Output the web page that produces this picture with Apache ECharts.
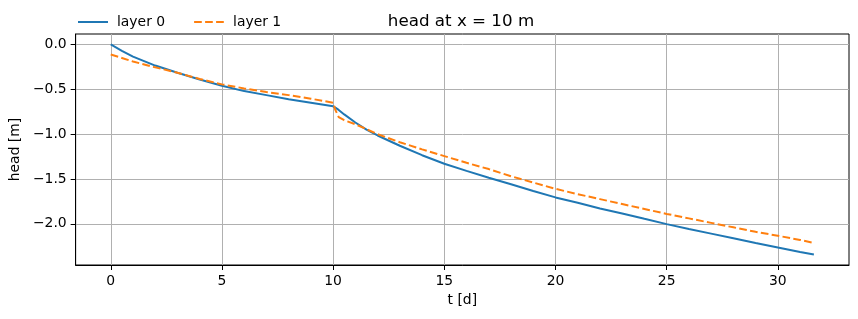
<!DOCTYPE html>
<html>
<head>
	<meta charset="utf-8" />
	<title>head at x = 10 m</title>
	<script src="https://cdn.jsdelivr.net/npm/echarts@6/dist/echarts.min.js"></script>
	<style>
		html, body { margin: 0; padding: 0; background: #fff; }
		#chart { width: 858px; height: 319px; }
	</style>
</head>
<body>
<div id="chart"></div>
<script type="text/javascript">
	// time in days
	var tDays = [0, 0.5, 1, 2, 3, 4, 5, 6, 7, 8, 9, 10, 10.1, 10.25, 10.5, 11, 11.5, 12, 13, 14, 15,
		16, 17, 18, 19, 20, 21, 22, 23, 24, 25, 26, 27, 28, 29, 30, 31, 31.62];
	// head in layer 0 and layer 1 (m)
	var layer0 = [0, -0.07, -0.135, -0.235, -0.315, -0.39, -0.46, -0.52, -0.565, -0.61, -0.65, -0.69, -0.705, -0.73, -0.78, -0.87, -0.95, -1.015, -1.13, -1.235, -1.33,
		-1.41, -1.487, -1.56, -1.635, -1.706, -1.765, -1.83, -1.885, -1.945, -2.004, -2.058, -2.11, -2.162, -2.214, -2.265, -2.315, -2.343];
	var layer1 = [-0.112, -0.15, -0.19, -0.255, -0.315, -0.385, -0.445, -0.49, -0.53, -0.565, -0.605, -0.65, -0.73, -0.81, -0.845, -0.89, -0.945, -1.0, -1.09, -1.17, -1.245,
		-1.32, -1.39, -1.47, -1.54, -1.61, -1.67, -1.725, -1.78, -1.835, -1.89, -1.94, -1.99, -2.04, -2.09, -2.134, -2.18, -2.214];
	var xTicks = [0, 5, 10, 15, 20, 25, 30];
	var yTicks = [-2, -1.5, -1, -0.5, 0];

	function pairs(xs, ys) {
		var out = [];
		for (var i = 0; i < xs.length; i++) out.push([xs[i], ys[i]]);
		return out;
	}
	function fmtY(v) {
		var s = Math.abs(v).toFixed(1);
		return v < 0 ? '\u2212' + s : s;
	}

	var font = 'DejaVu Sans';
	var myChart = echarts.init(document.getElementById('chart'));
	var option = {
		animation: false,
		backgroundColor: '#fff',
		title: {
			text: 'head at x = 10 m',
			left: 456,
			top: 8,
			textAlign: 'center',
			textStyle: { fontFamily: font, fontSize: 16.7, fontWeight: 'normal', color: '#000' }
		},
		legend: {
			left: 72,
			top: 10,
			itemWidth: 30,
			itemHeight: 14,
			itemGap: 28,
			itemStyle: { opacity: 0 },
			textStyle: { fontFamily: font, fontSize: 13.9, color: '#000', padding: [0, 0, 0, 4] },
			data: ['layer 0', 'layer 1']
		},
		grid: {
			left: 74, right: 9, top: 34, bottom: 54,
			show: true, borderColor: '#000', borderWidth: 1
		},
		xAxis: {
			type: 'value',
			min: -1.58,
			max: 33.2,
			name: 't [d]',
			nameLocation: 'middle',
			nameGap: 25,
			nameTextStyle: { fontFamily: font, fontSize: 13.9, color: '#000' },
			axisLine: { show: true, onZero: false, lineStyle: { color: '#000', width: 1 } },
			axisTick: { show: true, length: 5, customValues: xTicks, lineStyle: { color: '#000' } },
			axisLabel: { customValues: xTicks, margin: 9, fontFamily: font, fontSize: 13.9, color: '#000' },
			splitLine: { show: true, lineStyle: { color: '#b0b0b0', width: 1 } }
		},
		yAxis: {
			type: 'value',
			min: -2.46,
			max: 0.117,
			name: 'head [m]',
			nameLocation: 'middle',
			nameGap: 50,
			nameTextStyle: { fontFamily: font, fontSize: 13.9, color: '#000' },
			axisLine: { show: true, onZero: false, lineStyle: { color: '#000', width: 1 } },
			axisTick: { show: true, length: 5, customValues: yTicks, lineStyle: { color: '#000' } },
			axisLabel: { customValues: yTicks, margin: 9, fontFamily: font, fontSize: 13.9, color: '#000', formatter: fmtY },
			splitLine: { show: true, lineStyle: { color: '#b0b0b0', width: 1 } }
		},
		series: [
			{
				name: 'layer 0',
				type: 'line',
				data: pairs(tDays, layer0),
				symbol: 'none',
				color: '#1f77b4',
				lineStyle: { color: '#1f77b4', width: 2 }
			},
			{
				name: 'layer 1',
				type: 'line',
				data: pairs(tDays, layer1),
				symbol: 'none',
				color: '#ff7f0e',
				lineStyle: { color: '#ff7f0e', width: 2, type: [7.7, 3.3] }
			}
		]
	};
	myChart.setOption(option);
</script>
</body>
</html>
